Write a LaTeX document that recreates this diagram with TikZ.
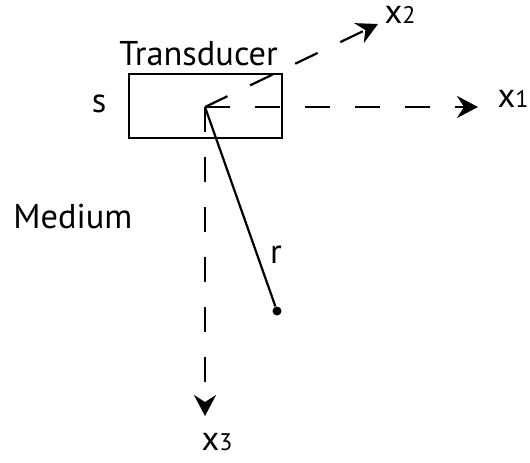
\documentclass[tikz,border=0pt]{standalone}
\usepackage{fontspec}
\setmainfont{PT Sans}
\usepackage{tikz}
\usetikzlibrary{arrows.meta}
\newcommand{\ax}[1]{x{\fontsize{12}{12}\selectfont#1}}
\begin{document}
\begin{tikzpicture}[x=0.5pt,y=-0.5pt,
		axis/.style={line width=1.1pt, dash pattern=on 12.5pt off 12.5pt, -{Stealth[length=10.5pt,width=11pt,inset=3.5pt]}},
		txt/.style={font=\fontsize{17.2}{20}\selectfont, inner sep=0pt}]
				\useasboundingbox (0,0) rectangle (530,462);
				\node[draw, line width=1.1pt, minimum width=76.5pt, minimum height=32pt] (tr) at (205.5,106) {};
				\coordinate (o)  at (205,107);
				\coordinate (e1) at (478,107);
				\coordinate (e2) at (378,24);
				\coordinate (e3) at (205,416);
				\node[circle, fill, inner sep=0pt, minimum size=4.5pt] (p) at (277,311) {};
				\node[txt, anchor=base west] (trl) at (119,65) {Transducer};
				\node[txt, anchor=base west] (med) at (13,228) {Medium};
				\node[txt] (s) at (99,104) {s};
				\node[txt] (x1) at (513,99) {\ax{1}};
				\node[txt] (x2) at (400,15) {\ax{2}};
				\node[txt] (x3) at (217,442) {\ax{3}};
				\draw[axis] (o)--(e1);
				\draw[axis] (o)--(e2);
				\draw[axis] (o)--(e3);
				\draw[line width=1.1pt] (p)--(o) node[txt, pos=0.26, right=6pt] (r) {r};
			\end{tikzpicture}
\end{document}
